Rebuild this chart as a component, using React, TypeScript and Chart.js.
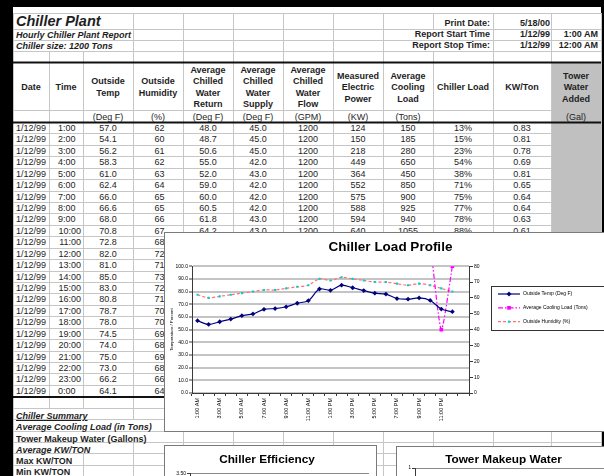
import React, { useEffect, useRef } from 'react';
import { Chart, registerables } from 'chart.js';

Chart.register(...registerables);

const FONT = '"Liberation Sans", Arial, Helvetica, sans-serif';

// ---------- data ----------
const hourLabels = [
  '1:00 AM', '2:00 AM', '3:00 AM', '4:00 AM', '5:00 AM', '6:00 AM', '7:00 AM', '8:00 AM',
  '9:00 AM', '10:00 AM', '11:00 AM', '12:00 PM', '1:00 PM', '2:00 PM', '3:00 PM', '4:00 PM',
  '5:00 PM', '6:00 PM', '7:00 PM', '8:00 PM', '9:00 PM', '10:00 PM', '11:00 PM', '12:00 AM', '',
];
const REPORT_DATE = '1/12/99';
const times = [
  '1:00', '2:00', '3:00', '4:00', '5:00', '6:00', '7:00', '8:00', '9:00', '10:00', '11:00', '12:00',
  '13:00', '14:00', '15:00', '16:00', '17:00', '18:00', '19:00', '20:00', '21:00', '22:00', '23:00', '0:00',
];
const outsideTemp = [57.0, 54.1, 56.2, 58.3, 61.0, 62.4, 66.0, 66.6, 68.0, 70.8, 72.8, 82.0, 81.0, 85.0, 83.0, 80.8, 78.7, 78.0, 74.5, 74.0, 75.0, 73.0, 66.2, 64.1];
const outsideHumidity = [62, 60, 61, 62, 63, 64, 65, 65, 66, 67, 68, 72, 71, 73, 72, 71, 70, 70, 69, 68, 69, 68, 66, 64];
const chwReturn = [48.0, 48.7, 50.6, 55.0, 52.0, 59.0, 60.0, 60.5, 61.8, 64.2];
const chwSupply = [45.0, 45.0, 45.0, 42.0, 43.0, 42.0, 42.0, 42.0, 43.0, 43.0];
const chwFlow = [1200, 1200, 1200, 1200, 1200, 1200, 1200, 1200, 1200, 1200];
const electricPower = [124, 150, 218, 449, 364, 552, 575, 588, 594, 640];
const coolingLoadTable = [150, 185, 280, 650, 450, 850, 900, 925, 940, 1055];
const chillerLoad = ['13%', '15%', '23%', '54%', '38%', '71%', '75%', '77%', '78%', '88%'];
const kwPerTon = [0.83, 0.81, 0.78, 0.69, 0.81, 0.65, 0.64, 0.64, 0.63, 0.61];
const coolingLoadChart = [150, 185, 280, 650, 450, 850, 900, 925, 940, 1055, null, null, null, null, null, null, null, null, null, null, null, 95, 40, 80];
const towerWater: (number | null)[] = [];

const leftTicksMax = 100;
const rightTicksMax = 80;

const headerCols = [
  ['Date'], ['Time'], ['Outside', 'Temp'], ['Outside', 'Humidity'],
  ['Average', 'Chilled', 'Water', 'Return'], ['Average', 'Chilled', 'Water', 'Supply'],
  ['Average', 'Chilled', 'Water', 'Flow'], ['Measured', 'Electric', 'Power'],
  ['Average', 'Cooling', 'Load'], ['Chiller Load'], ['KW/Ton'], ['Tower', 'Water', 'Added'],
];
const unitLabels = ['', '', '(Deg F)', '(%)', '(Deg F)', '(Deg F)', '(GPM)', '(KW)', '(Tons)', '', '', '(Gal)'];
const summaryLabels = ['Chiller Summary', 'Average Cooling Load (in Tons)', 'Tower Makeup Water (Gallons)', 'Average KW/TON', 'Max KW/TON', 'Min KW/TON'];

// ---------- layout constants ----------
const colX = [13, 49, 83, 133, 183, 233, 283, 333, 383, 433, 493, 551, 601];
const ROW0 = 122;
const ROWH = 11.43;
const GRID = '#c6c6c6';
const TEXT = '#1e1e1e';

function Txt(props: { x: number; y: number; w: number; align?: 'left' | 'right' | 'center'; bold?: boolean; italic?: boolean; size?: number; underline?: boolean; children: React.ReactNode }) {
  const { x, y, w, align = 'center', bold, italic, size = 9, underline, children } = props;
  return (
    <div style={{
      position: 'absolute', left: x, top: y - 6, width: w, height: 12, lineHeight: '12px',
      textAlign: align, fontSize: size, fontWeight: bold ? 700 : 400, fontStyle: italic ? 'italic' : 'normal',
      whiteSpace: 'nowrap', color: TEXT, textDecoration: underline ? 'underline' : 'none',
    }}>{children}</div>
  );
}

function drawMarker(ctx: CanvasRenderingContext2D, style: string, x: number, y: number, r: number, color: string) {
  ctx.fillStyle = color;
  ctx.beginPath();
  if (style === 'rectRot') {
    ctx.moveTo(x, y - r); ctx.lineTo(x + r, y); ctx.lineTo(x, y + r); ctx.lineTo(x - r, y); ctx.closePath();
  } else {
    const s = r * Math.SQRT1_2;
    ctx.rect(x - s, y - s, 2 * s, 2 * s);
  }
  ctx.fill();
}

const boxLegend = {
  id: 'boxLegend',
  afterDraw(chart: any) {
    const ctx: CanvasRenderingContext2D = chart.ctx;
    const bx = 326, by = 53, bw = 126, bh = 44;
    ctx.save();
    ctx.fillStyle = '#fff';
    ctx.fillRect(bx, by, bw, bh);
    ctx.strokeStyle = '#333';
    ctx.lineWidth = 1;
    ctx.strokeRect(bx + 0.5, by + 0.5, bw, bh);
    chart.data.datasets.forEach((ds: any, i: number) => {
      const cy = 61 + i * 13.85;
      ctx.strokeStyle = ds.borderColor;
      ctx.lineWidth = ds.borderWidth;
      ctx.setLineDash(ds.borderDash || []);
      ctx.beginPath(); ctx.moveTo(333, cy); ctx.lineTo(355, cy); ctx.stroke();
      ctx.setLineDash([]);
      drawMarker(ctx, ds.pointStyle, 344, cy, ds.pointRadius, ds.pointBackgroundColor);
      ctx.fillStyle = '#000';
      ctx.font = `5px ${FONT}`;
      ctx.textBaseline = 'middle';
      ctx.textAlign = 'left';
      ctx.fillText(ds.label, 358, cy);
    });
    ctx.restore();
  },
};

export default function App() {
  const mainRef = useRef<HTMLCanvasElement>(null);
  const effRef = useRef<HTMLCanvasElement>(null);
  const towerRef = useRef<HTMLCanvasElement>(null);

  useEffect(() => {
    const charts: Chart[] = [];
    const axisColor = '#3a3a3a';
    if (mainRef.current) {
      charts.push(new Chart(mainRef.current, {
        type: 'line',
        data: {
          labels: hourLabels,
          datasets: [
            {
              label: 'Outside Temp (Deg F)', data: outsideTemp, yAxisID: 'y',
              borderColor: '#000080', backgroundColor: '#000080', borderWidth: 1.2,
              pointStyle: 'rectRot', pointRadius: 2.4, pointBorderWidth: 0, pointBackgroundColor: '#000080',
              tension: 0.3,
            },
            {
              label: 'Average Cooling Load (Tons)', data: coolingLoadChart, yAxisID: 'y2',
              borderColor: '#ff00ff', backgroundColor: '#ff00ff', borderWidth: 1.2, borderDash: [5, 2, 1.5, 2],
              pointStyle: 'rect', pointRadius: 2.6, pointBorderWidth: 0, pointBackgroundColor: '#ff00ff',
              tension: 0.2,
            },
            {
              label: 'Outside Humidity (%)', data: outsideHumidity, yAxisID: 'y2',
              borderColor: '#ff7070', backgroundColor: '#00d0d0', borderWidth: 1.2, borderDash: [3, 2],
              pointStyle: 'rect', pointRadius: 1.5, pointBorderWidth: 0, pointBackgroundColor: '#00d0d0',
              tension: 0.3,
            },
          ],
        } as any,
        options: {
          animation: false, responsive: false, events: [],
          layout: { padding: 0 },
          plugins: {
            legend: { display: false },
            tooltip: { enabled: false },
            title: {
              display: true, text: 'Chiller Load Profile', color: '#000',
              font: { family: FONT, size: 13.5, weight: 'bold' }, padding: { top: 6, bottom: 11 },
            },
          },
          scales: {
            x: {
              type: 'category', offset: true,
              grid: { display: true, drawOnChartArea: false, offset: true, tickLength: 3, tickColor: axisColor, tickWidth: 1 },
              border: { color: axisColor, width: 1 },
              ticks: {
                autoSkip: false, maxRotation: 90, minRotation: 90, color: '#000', padding: 2,
                font: { family: FONT, size: 5.5 },
                callback: (_v: any, i: number) => (i % 2 === 0 ? hourLabels[i] : ''),
              },
              afterFit: (s: any) => { s.height = 38; },
            },
            y: {
              position: 'left', min: 0, max: leftTicksMax,
              ticks: { stepSize: 10, color: '#000', padding: 1, font: { family: FONT, size: 5 }, callback: (v: any) => Number(v).toFixed(1) },
              grid: { color: '#c4c4c4', lineWidth: 2, tickLength: 3, tickColor: axisColor, tickWidth: 1 },
              border: { color: axisColor, width: 1 },
              title: { display: true, text: 'Temperature / Percent', color: '#000', font: { family: FONT, size: 4.3 }, padding: { top: 4, bottom: 0 } },
              afterFit: (s: any) => { s.width = 27; },
            },
            y2: {
              position: 'right', min: 0, max: rightTicksMax,
              ticks: { stepSize: 10, color: '#000', padding: 1, font: { family: FONT, size: 5 } },
              grid: { drawOnChartArea: false, tickLength: 4, tickColor: axisColor, tickWidth: 1 },
              border: { color: axisColor, width: 1 },
              afterFit: (s: any) => { s.width = 147; },
            },
          },
        } as any,
        plugins: [boxLegend],
      }));
    }
    if (effRef.current) {
      charts.push(new Chart(effRef.current, {
        type: 'line',
        data: {
          labels: hourLabels.slice(0, 24),
          datasets: [{
            label: 'KW/Ton', data: kwPerTon, borderColor: '#000080', backgroundColor: '#000080',
            borderWidth: 1.2, pointStyle: 'rectRot', pointRadius: 2.2, pointBorderWidth: 0,
          }],
        } as any,
        options: {
          animation: false, responsive: false, events: [],
          layout: { padding: { right: 7 } },
          plugins: {
            legend: { display: false }, tooltip: { enabled: false },
            title: { display: true, text: 'Chiller Efficiency', color: '#000', font: { family: FONT, size: 11.8, weight: 'bold' }, padding: { top: 7, bottom: 6 } },
          },
          scales: {
            x: { grid: { drawOnChartArea: false, tickColor: axisColor }, border: { color: axisColor }, ticks: { font: { family: FONT, size: 5 }, color: '#000' } },
            y: {
              min: 0, max: 3.5,
              ticks: { stepSize: 0.5, color: '#000', padding: 1, font: { family: FONT, size: 5 }, callback: (v: any) => Number(v).toFixed(2) },
              grid: { color: '#8a8a8a', tickLength: 3, tickColor: axisColor },
              border: { color: axisColor },
              afterFit: (s: any) => { s.width = 25; },
            },
          },
        } as any,
      }));
    }
    if (towerRef.current) {
      charts.push(new Chart(towerRef.current, {
        type: 'line',
        data: {
          labels: hourLabels.slice(0, 24),
          datasets: [{ label: 'Tower Water Added', data: towerWater, borderColor: '#000080', borderWidth: 1.2 }],
        } as any,
        options: {
          animation: false, responsive: false, events: [],
          layout: { padding: { right: 7 } },
          plugins: {
            legend: { display: false }, tooltip: { enabled: false },
            title: { display: true, text: 'Tower Makeup Water', color: '#000', font: { family: FONT, size: 11.8, weight: 'bold' }, padding: { top: 6, bottom: 1 } },
          },
          scales: {
            x: {
              grid: { drawOnChartArea: false, tickColor: axisColor }, border: { color: axisColor },
              ticks: { font: { family: FONT, size: 5 }, color: '#000' },
              afterFit: (s: any) => { s.height = 30; },
            },
            y: {
              min: 0, max: 1,
              ticks: { stepSize: 0.1, color: '#000', padding: 1, font: { family: FONT, size: 4.5 }, callback: (v: any) => String(Number(Number(v).toFixed(1))) },
              grid: { color: '#8a8a8a', tickLength: 3, tickColor: axisColor },
              border: { color: axisColor },
              afterFit: (s: any) => { s.width = 18; },
            },
          },
        } as any,
      }));
    }
    return () => charts.forEach((c) => c.destroy());
  }, []);

  // grid lines
  const hLines: number[] = [13, 29, 40, 51, 110];
  for (let i = 1; i < 24; i++) hLines.push(Math.round(ROW0 + i * ROWH));
  [408, 419, 431, 442, 453, 465].forEach((y) => hLines.push(y));

  const masks: [number, number, number, number][] = [
    [14, 14, 118, 15], [14, 30, 118, 10], [14, 41, 118, 10],
    [384, 30, 108, 10], [384, 41, 108, 10],
    [14, 409, 118, 10], [14, 420, 168, 11], [14, 432, 168, 10], [14, 443, 118, 10], [14, 454, 68, 11], [14, 466, 68, 10],
  ];

  const summaryY = [416, 427.3, 438.5, 449.5, 460.8, 472];
  const summaryStyle = [
    { bold: true, italic: true, underline: true }, { bold: true, italic: true }, { bold: true },
    { bold: true, italic: true }, { bold: true }, { bold: true },
  ];

  const dataCols: ((i: number) => string | null)[] = [
    () => null, () => null,
    (i) => outsideTemp[i].toFixed(1),
    (i) => String(outsideHumidity[i]),
    (i) => (i < chwReturn.length ? chwReturn[i].toFixed(1) : null),
    (i) => (i < chwSupply.length ? chwSupply[i].toFixed(1) : null),
    (i) => (i < chwFlow.length ? String(chwFlow[i]) : null),
    (i) => (i < electricPower.length ? String(electricPower[i]) : null),
    (i) => (i < coolingLoadTable.length ? String(coolingLoadTable[i]) : null),
    (i) => (i < chillerLoad.length ? chillerLoad[i] : null),
    (i) => (i < kwPerTon.length ? kwPerTon[i].toFixed(2) : null),
    () => null,
  ];
  const colShift = [0, 0, 0, 1.5, 0, 0, 0, 0, 0, 0, 0, 0];

  return (
    <div style={{ position: 'fixed', left: 0, top: 0, width: 604, height: 476, overflow: 'hidden', background: '#000', fontFamily: FONT }}>
      <svg width={604} height={476} style={{ position: 'absolute', left: 0, top: 0 }}>
        <rect x={13} y={7} width={588} height={469} fill="#fff" />
        {hLines.map((y, k) => <line key={'h' + k} x1={13} x2={601} y1={y + 0.5} y2={y + 0.5} stroke={GRID} strokeWidth={1} />)}
        {colX.map((x, k) => <line key={'v' + k} x1={x + 0.5} x2={x + 0.5} y1={13} y2={476} stroke={GRID} strokeWidth={1} />)}
        <rect x={552} y={63} width={49} height={334} fill="#c0c0c0" />
        {masks.map((m, k) => <rect key={'m' + k} x={m[0]} y={m[1]} width={m[2]} height={m[3]} fill="#fff" />)}
        <rect x={13} y={61.5} width={588} height={2} fill="#111" />
        <rect x={13} y={121.5} width={588} height={2} fill="#111" />
        <rect x={13} y={396} width={588} height={2} fill="#111" />
      </svg>

      {/* title area */}
      <Txt x={16} y={20.5} w={200} align="left" bold italic size={14.5}>Chiller Plant</Txt>
      <Txt x={16} y={35} w={200} align="left" bold italic>Hourly Chiller Plant Report</Txt>
      <Txt x={16} y={46} w={200} align="left" bold italic>Chiller size: 1200 Tons</Txt>

      <Txt x={390} y={23} w={100} align="right" bold>Print Date:</Txt>
      <Txt x={450} y={23} w={100} align="right" bold>5/18/00</Txt>
      <Txt x={390} y={34} w={100} align="right" bold>Report Start Time</Txt>
      <Txt x={450} y={34} w={100} align="right" bold>1/12/99</Txt>
      <Txt x={500} y={34} w={98} align="right" bold>1:00 AM</Txt>
      <Txt x={390} y={45} w={100} align="right" bold>Report Stop Time:</Txt>
      <Txt x={450} y={45} w={100} align="right" bold>1/12/99</Txt>
      <Txt x={500} y={45} w={98} align="right" bold>12:00 AM</Txt>

      {/* header */}
      {headerCols.map((lines, c) => (
        <div key={'hd' + c} style={{
          position: 'absolute', left: colX[c], width: colX[c + 1] - colX[c], top: 87.8 - (lines.length * 11.45) / 2,
          lineHeight: '11.45px', fontSize: 9, fontWeight: 700, textAlign: 'center', color: TEXT, whiteSpace: 'nowrap',
        }}>
          {lines.map((l, k) => <div key={k}>{l}</div>)}
        </div>
      ))}
      {unitLabels.map((u, c) => (u ? <Txt key={'u' + c} x={colX[c]} y={116.5} w={colX[c + 1] - colX[c]}>{u}</Txt> : null))}

      {/* data rows */}
      {times.map((t, i) => {
        const cy = 128 + i * ROWH;
        const tRight = t.length > 4 ? 81 : 75.5;
        return (
          <React.Fragment key={'r' + i}>
            <Txt x={16} y={cy} w={40} align="left">{REPORT_DATE}</Txt>
            <Txt x={tRight - 30} y={cy} w={30} align="right">{t}</Txt>
            {dataCols.map((f, c) => {
              const v = f(i);
              return v === null ? null : <Txt key={c} x={colX[c] + colShift[c]} y={cy} w={colX[c + 1] - colX[c]}>{v}</Txt>;
            })}
          </React.Fragment>
        );
      })}

      {/* summary */}
      {summaryLabels.map((s, k) => (
        <Txt key={'s' + k} x={16} y={summaryY[k]} w={200} align="left" {...summaryStyle[k]}>{s}</Txt>
      ))}

      {/* main chart */}
      <div style={{ position: 'absolute', left: 164, top: 232, width: 453, height: 200, boxSizing: 'border-box', border: '1px solid #7a7a7a', background: '#fff' }}>
        <canvas ref={mainRef} width={451} height={198} style={{ display: 'block' }} />
      </div>

      {/* chiller efficiency */}
      <div style={{ position: 'absolute', left: 164, top: 445, width: 213, height: 200, boxSizing: 'border-box', border: '1px solid #7a7a7a', background: '#fff' }}>
        <canvas ref={effRef} width={211} height={198} style={{ display: 'block' }} />
      </div>

      {/* tower makeup water */}
      <div style={{ position: 'absolute', left: 396, top: 446, width: 222, height: 200, boxSizing: 'border-box', border: '1px solid #7a7a7a', background: '#fff' }}>
        <canvas ref={towerRef} width={220} height={110} style={{ display: 'block' }} />
      </div>
    </div>
  );
}
